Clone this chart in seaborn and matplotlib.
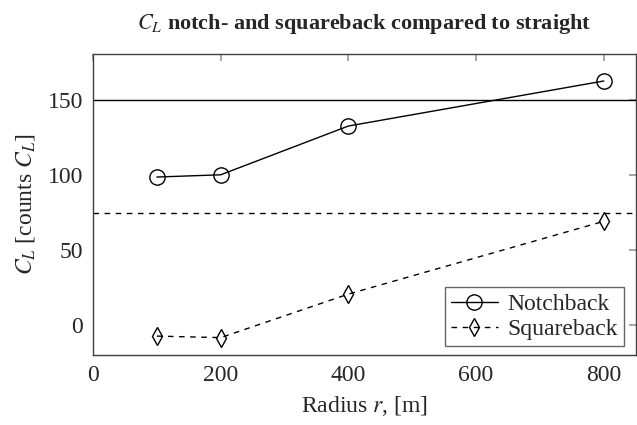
import numpy as np
import pandas as pd
import matplotlib
matplotlib.use("Agg")
import matplotlib.pyplot as plt
import seaborn as sns

# data
radius = [100, 200, 400, 800]
notchback = [98.5, 100, 132.5, 162.5]
squareback = [-7.5, -8.5, 20.5, 69]
straight_notch = 149.5
straight_square = 74.5

sns.set_theme(style="white")
plt.rcParams["font.family"] = ["Liberation Serif", "DejaVu Serif"]
plt.rcParams["mathtext.fontset"] = "stix"

df = pd.DataFrame({
    "r": radius * 2,
    "cl": notchback + squareback,
    "body": ["Notchback"] * 4 + ["Squareback"] * 4,
})

fig = plt.figure(figsize=(6.37, 4.25), dpi=100)
ax = fig.add_axes([0.146, 0.165, 0.852, 0.708])

ax.axhline(straight_notch, color="black", lw=1.0)
ax.axhline(straight_square, color="black", lw=1.0, ls=(0, (4, 4)))

sns.lineplot(data=df, x="r", y="cl", hue="body", style="body",
             palette=["black", "black"], markers=["o", "d"],
             dashes=[(None, None), (4, 4)], markersize=12,
             markerfacecolor="none", markeredgecolor="black",
             markeredgewidth=1.0, lw=1.0, ax=ax)

ax.set_xlim(0, 850)
ax.set_ylim(-20, 180.5)
ax.set_xticks([0, 200, 400, 600, 800])
ax.set_yticks([0, 50, 100, 150])
ax.tick_params(direction="in", length=5, color="#999999", labelsize=17,
               top=True, right=True, pad=7)
for s in ax.spines.values():
    s.set_color("#404040")
    s.set_linewidth(1.0)

ax.set_xlabel("Radius $r$, [m]", fontsize=17, labelpad=6)
ax.set_ylabel("$C_L$ [counts $C_L$]", fontsize=17, labelpad=8)
ax.set_title("$C_L$ notch- and squareback compared to straight",
             fontsize=16, fontweight="bold", pad=18)

leg = ax.legend(loc="lower right", bbox_to_anchor=(0.978, 0.03),
                fontsize=17, frameon=True, fancybox=False,
                handlelength=2.0, handletextpad=0.4, borderpad=0.25,
                labelspacing=0.15, borderaxespad=0)
leg.get_frame().set_edgecolor("#404040")
leg.get_frame().set_linewidth(1.0)

# slimmer diamonds, as in the reference
for ln in ax.lines + list(leg.legend_handles):
    if ln.get_marker() == "d":
        ln.set_markersize(9)
    elif ln.get_marker() == "o":
        ln.set_markersize(11)

fig.savefig("out.png", dpi=100)
